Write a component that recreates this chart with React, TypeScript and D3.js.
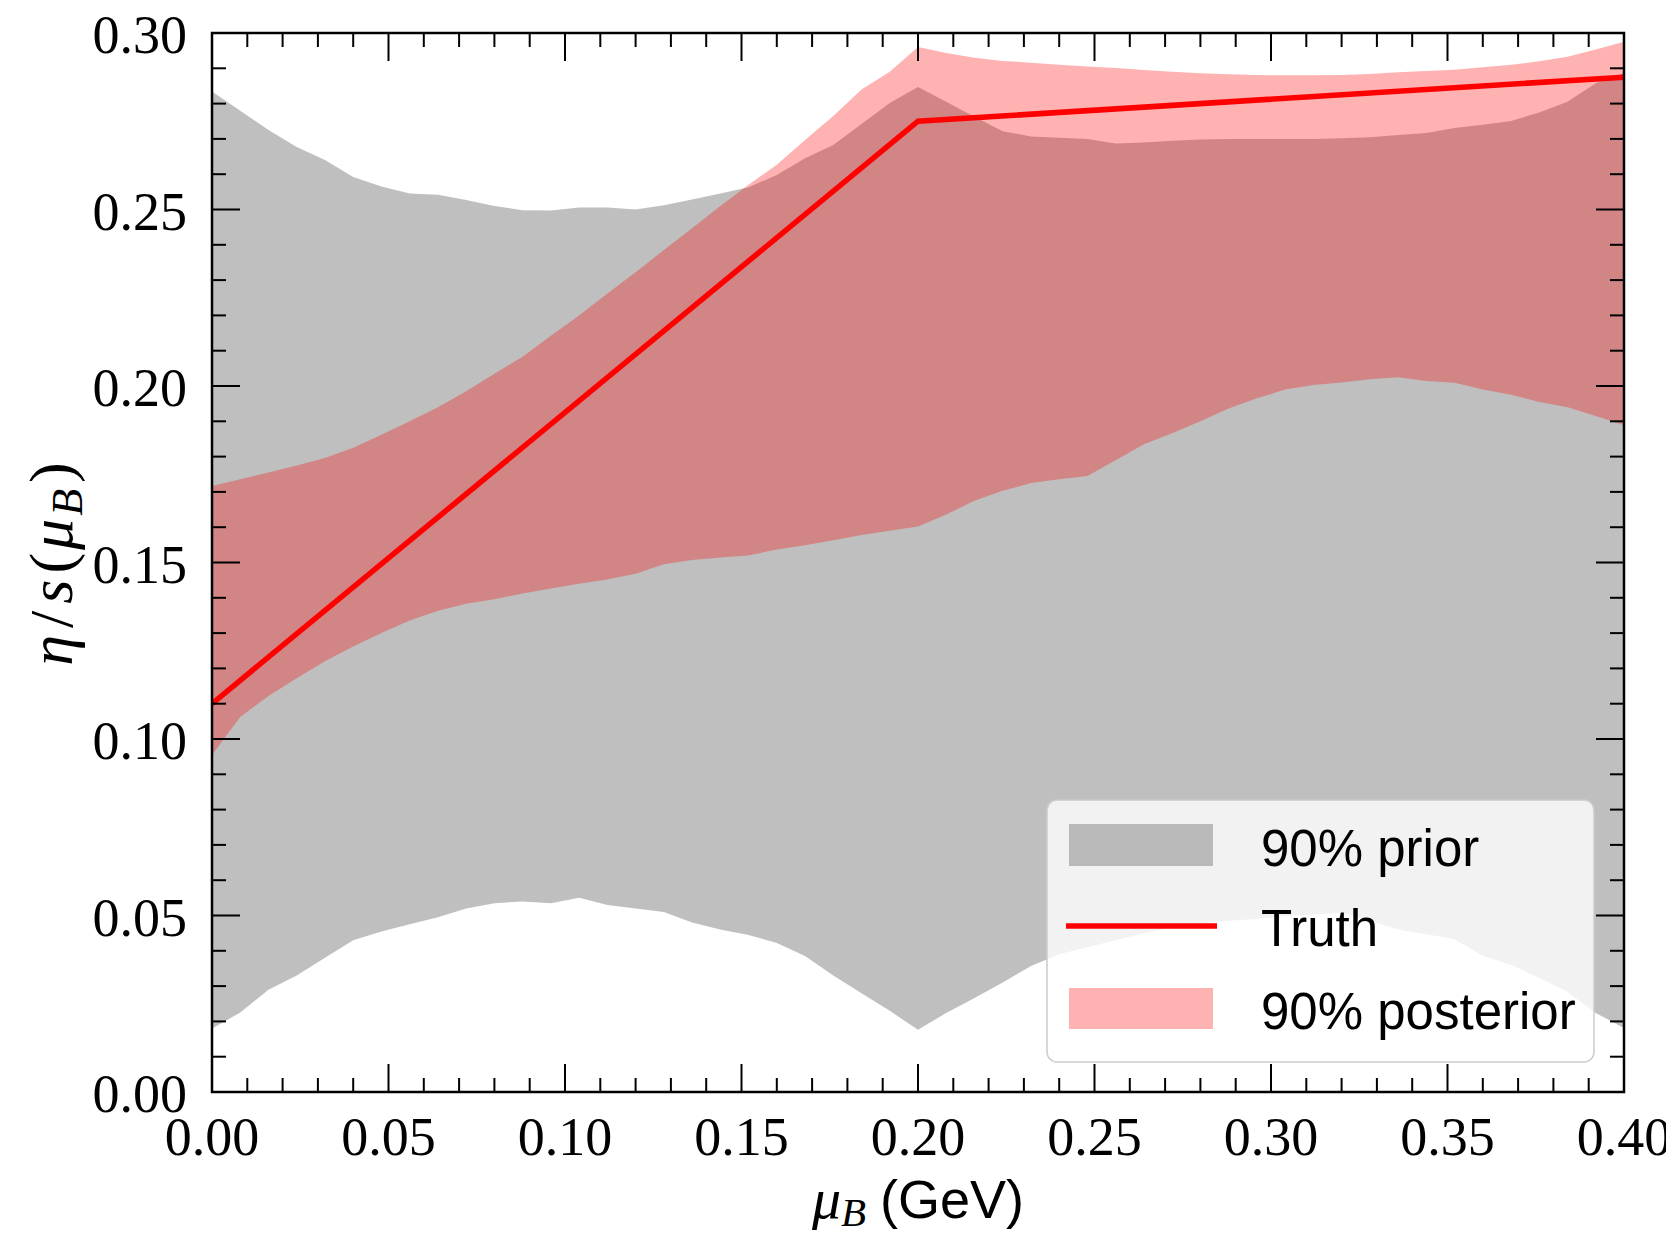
import React, { useEffect, useRef } from "react";
import * as d3 from "d3";

// mu_B grid (GeV)
const muB = [
  0, 0.008, 0.016, 0.024, 0.032, 0.04, 0.048, 0.056, 0.064, 0.072,
  0.08, 0.088, 0.096, 0.104, 0.112, 0.12, 0.128, 0.136, 0.144, 0.152,
  0.16, 0.168, 0.176, 0.184, 0.192, 0.2, 0.208, 0.216, 0.224, 0.232,
  0.24, 0.248, 0.256, 0.264, 0.272, 0.28, 0.288, 0.296, 0.304, 0.312,
  0.32, 0.328, 0.336, 0.344, 0.352, 0.36, 0.368, 0.376, 0.384, 0.392, 0.4,
];

// 90% prior band
const priorLow = [
  0.018, 0.0225, 0.029, 0.033, 0.038, 0.043, 0.0455, 0.0475, 0.0495, 0.052,
  0.0535, 0.054, 0.0535, 0.055, 0.053, 0.052, 0.051, 0.048, 0.046, 0.0445,
  0.0422, 0.0385, 0.033, 0.028, 0.023, 0.0176, 0.0224, 0.0266, 0.031, 0.0357,
  0.039, 0.041, 0.043, 0.045, 0.0465, 0.0478, 0.0485, 0.049, 0.0498, 0.0503,
  0.0507, 0.0485, 0.046, 0.0447, 0.0433, 0.0385, 0.036, 0.0323, 0.0283, 0.0224, 0.0181,
];
const priorHigh = [
  0.2834, 0.278, 0.2725, 0.2677, 0.264, 0.2592, 0.2565, 0.2545, 0.2542, 0.2527,
  0.251, 0.2498, 0.2497, 0.2506, 0.2506, 0.25, 0.2512, 0.2528, 0.2545, 0.2563,
  0.2598, 0.2645, 0.2683, 0.2742, 0.2802, 0.2847, 0.2805, 0.2763, 0.2722, 0.2707,
  0.2703, 0.27, 0.2687, 0.269, 0.2695, 0.2698, 0.27, 0.27, 0.27, 0.27,
  0.2702, 0.2705, 0.2711, 0.2717, 0.2731, 0.274, 0.2751, 0.2775, 0.2805, 0.2858, 0.2887,
];

// 90% posterior band
const postLow = [
  0.0955, 0.1062, 0.1122, 0.1172, 0.122, 0.1262, 0.13, 0.1336, 0.1363, 0.1383,
  0.1396, 0.1412, 0.1426, 0.144, 0.1452, 0.1468, 0.1495, 0.1507, 0.1514, 0.152,
  0.1537, 0.1549, 0.1563, 0.1578, 0.159, 0.1602, 0.1636, 0.1675, 0.1703, 0.1725,
  0.1736, 0.1745, 0.179, 0.1835, 0.1866, 0.19, 0.1936, 0.1965, 0.199, 0.2003,
  0.201, 0.2019, 0.2025, 0.2014, 0.2009, 0.199, 0.1975, 0.1955, 0.194, 0.1915, 0.1889,
];
const postHigh = [
  0.1717, 0.1736, 0.1755, 0.1775, 0.1796, 0.1825, 0.1862, 0.19, 0.194, 0.1985,
  0.2035, 0.2083, 0.2142, 0.22, 0.2262, 0.2322, 0.2385, 0.2447, 0.251, 0.257,
  0.2627, 0.2697, 0.2765, 0.284, 0.289, 0.296, 0.2943, 0.293, 0.2921, 0.2916,
  0.291, 0.2905, 0.2901, 0.2895, 0.289, 0.2886, 0.2883, 0.2881, 0.288, 0.288,
  0.2881, 0.2884, 0.2889, 0.2892, 0.2896, 0.2903, 0.291, 0.292, 0.2933, 0.2953, 0.2975,
];

// truth curve
const truthMu = [0, 0.2, 0.4];
const truthEta = [0.11, 0.275, 0.2875];

const xTicks = [0, 0.05, 0.1, 0.15, 0.2, 0.25, 0.3, 0.35, 0.4];
const yTicks = [0, 0.05, 0.1, 0.15, 0.2, 0.25, 0.3];
const legendLabels = ["90% prior", "Truth", "90% posterior"];

const W = 1666, H = 1238;
const SERIF = "'Liberation Serif', 'DejaVu Serif', serif";
const SANS = "'Liberation Sans', Arial, sans-serif";

const App = () => {
  const svgRef = useRef<SVGSVGElement>(null);

  useEffect(() => {
    const svg = d3.select(svgRef.current);
    svg.selectAll("*").remove();

    const margin = { top: 33, right: 42, bottom: 146, left: 212 };
    const x = d3.scaleLinear().domain([0, 0.4]).range([margin.left, W - margin.right]);
    const y = d3.scaleLinear().domain([0, 0.3]).range([H - margin.bottom, margin.top]);
    const [x0, x1] = x.range();
    const [y0, y1] = y.range();

    svg.append("clipPath").attr("id", "plot-clip")
      .append("rect")
      .attr("x", x0).attr("y", y1)
      .attr("width", x1 - x0).attr("height", y0 - y1);

    const plot = svg.append("g").attr("clip-path", "url(#plot-clip)");

    const band = (lo: number[], hi: number[]) =>
      d3.area<number>()
        .x(d => x(muB[d]))
        .y0(d => y(lo[d]))
        .y1(d => y(hi[d]))(muB.map((_, i) => i));

    plot.append("path").attr("d", band(priorLow, priorHigh))
      .attr("fill", "#808080").attr("fill-opacity", 0.5);
    plot.append("path").attr("d", band(postLow, postHigh))
      .attr("fill", "#ff0000").attr("fill-opacity", 0.3);

    const line = d3.line<number>().x(d => x(truthMu[d])).y(d => y(truthEta[d]));
    plot.append("path").attr("d", line(truthMu.map((_, i) => i)))
      .attr("fill", "none").attr("stroke", "#ff0000").attr("stroke-width", 5.5);

    // ticks, inward on all four sides
    const ticks = svg.append("g").attr("stroke", "#000").attr("stroke-width", 2);
    const major = 28, minor = 14;
    x.ticks(40).forEach(v => {
      const isMajor = xTicks.some(t => Math.abs(t - v) < 1e-9);
      const len = isMajor ? major : minor;
      ticks.append("line").attr("x1", x(v)).attr("x2", x(v)).attr("y1", y0).attr("y2", y0 - len);
      ticks.append("line").attr("x1", x(v)).attr("x2", x(v)).attr("y1", y1).attr("y2", y1 + len);
    });
    y.ticks(30).forEach(v => {
      const isMajor = yTicks.some(t => Math.abs(t - v) < 1e-9);
      const len = isMajor ? major : minor;
      ticks.append("line").attr("y1", y(v)).attr("y2", y(v)).attr("x1", x0).attr("x2", x0 + len);
      ticks.append("line").attr("y1", y(v)).attr("y2", y(v)).attr("x1", x1).attr("x2", x1 - len);
    });

    svg.append("rect")
      .attr("x", x0).attr("y", y1)
      .attr("width", x1 - x0).attr("height", y0 - y1)
      .attr("fill", "none").attr("stroke", "#000").attr("stroke-width", 2.5);

    const fmt = d3.format(".2f");
    svg.append("g").selectAll("text").data(xTicks).join("text")
      .attr("x", d => x(d)).attr("y", y0 + 63)
      .attr("text-anchor", "middle")
      .style("font-family", SERIF).style("font-size", "54px")
      .text(d => fmt(d));
    svg.append("g").selectAll("text").data(yTicks).join("text")
      .attr("x", x0 - 25).attr("y", d => y(d) + 20)
      .attr("text-anchor", "end")
      .style("font-family", SERIF).style("font-size", "54px")
      .text(d => fmt(d));

    // x label: mu_B (GeV)
    const xl = svg.append("text")
      .attr("x", (x0 + x1) / 2).attr("y", 1218)
      .attr("text-anchor", "middle")
      .style("font-size", "58px");
    xl.append("tspan").style("font-family", SERIF).style("font-style", "italic").text("μ");
    xl.append("tspan").style("font-family", SERIF).style("font-style", "italic")
      .style("font-size", "41px").attr("dy", 8).text("B");
    xl.append("tspan").style("font-family", SANS).style("font-size", "54px")
      .attr("dy", -8).attr("dx", 14).text("(GeV)");

    // y label: eta/s(mu_B)
    const yl = svg.append("text")
      .attr("transform", `translate(72,${(y0 + y1) / 2}) rotate(-90)`)
      .attr("text-anchor", "middle")
      .style("font-family", SERIF).style("font-size", "62px")
      .style("letter-spacing", "3px");
    yl.append("tspan").style("font-style", "italic").text("η");
    yl.append("tspan").attr("dx", 4).text("/");
    yl.append("tspan").attr("dx", 4).style("font-style", "italic").text("s");
    yl.append("tspan").attr("dx", 3).text("(");
    yl.append("tspan").style("font-style", "italic").text("μ");
    yl.append("tspan").style("font-style", "italic").style("font-size", "44px")
      .attr("dy", 10).text("B");
    yl.append("tspan").attr("dy", -10).attr("dx", 3).text(")");

    // legend
    const lg = svg.append("g");
    lg.append("rect")
      .attr("x", 1047).attr("y", 800).attr("width", 547).attr("height", 262)
      .attr("rx", 10)
      .attr("fill", "#fff").attr("fill-opacity", 0.8)
      .attr("stroke", "#cccccc").attr("stroke-width", 1.5);
    const rowY = [866, 946, 1029];
    lg.append("rect").attr("x", 1069).attr("y", rowY[0] - 42).attr("width", 144).attr("height", 42)
      .attr("fill", "#808080").attr("fill-opacity", 0.5);
    lg.append("line").attr("x1", 1066).attr("x2", 1217).attr("y1", 926).attr("y2", 926)
      .attr("stroke", "#ff0000").attr("stroke-width", 5.5);
    lg.append("rect").attr("x", 1069).attr("y", rowY[2] - 41).attr("width", 144).attr("height", 41)
      .attr("fill", "#ff0000").attr("fill-opacity", 0.3);
    lg.selectAll("text.lab").data(legendLabels).join("text")
      .attr("class", "lab")
      .attr("x", 1261).attr("y", (_, i) => rowY[i])
      .style("font-family", SANS).style("font-size", "51px")
      .text(d => d);
  }, []);

  return (
    <svg ref={svgRef} width={W} height={H}
      style={{ position: "absolute", left: 0, top: 0, background: "#fff" }} />
  );
};

export default App;
